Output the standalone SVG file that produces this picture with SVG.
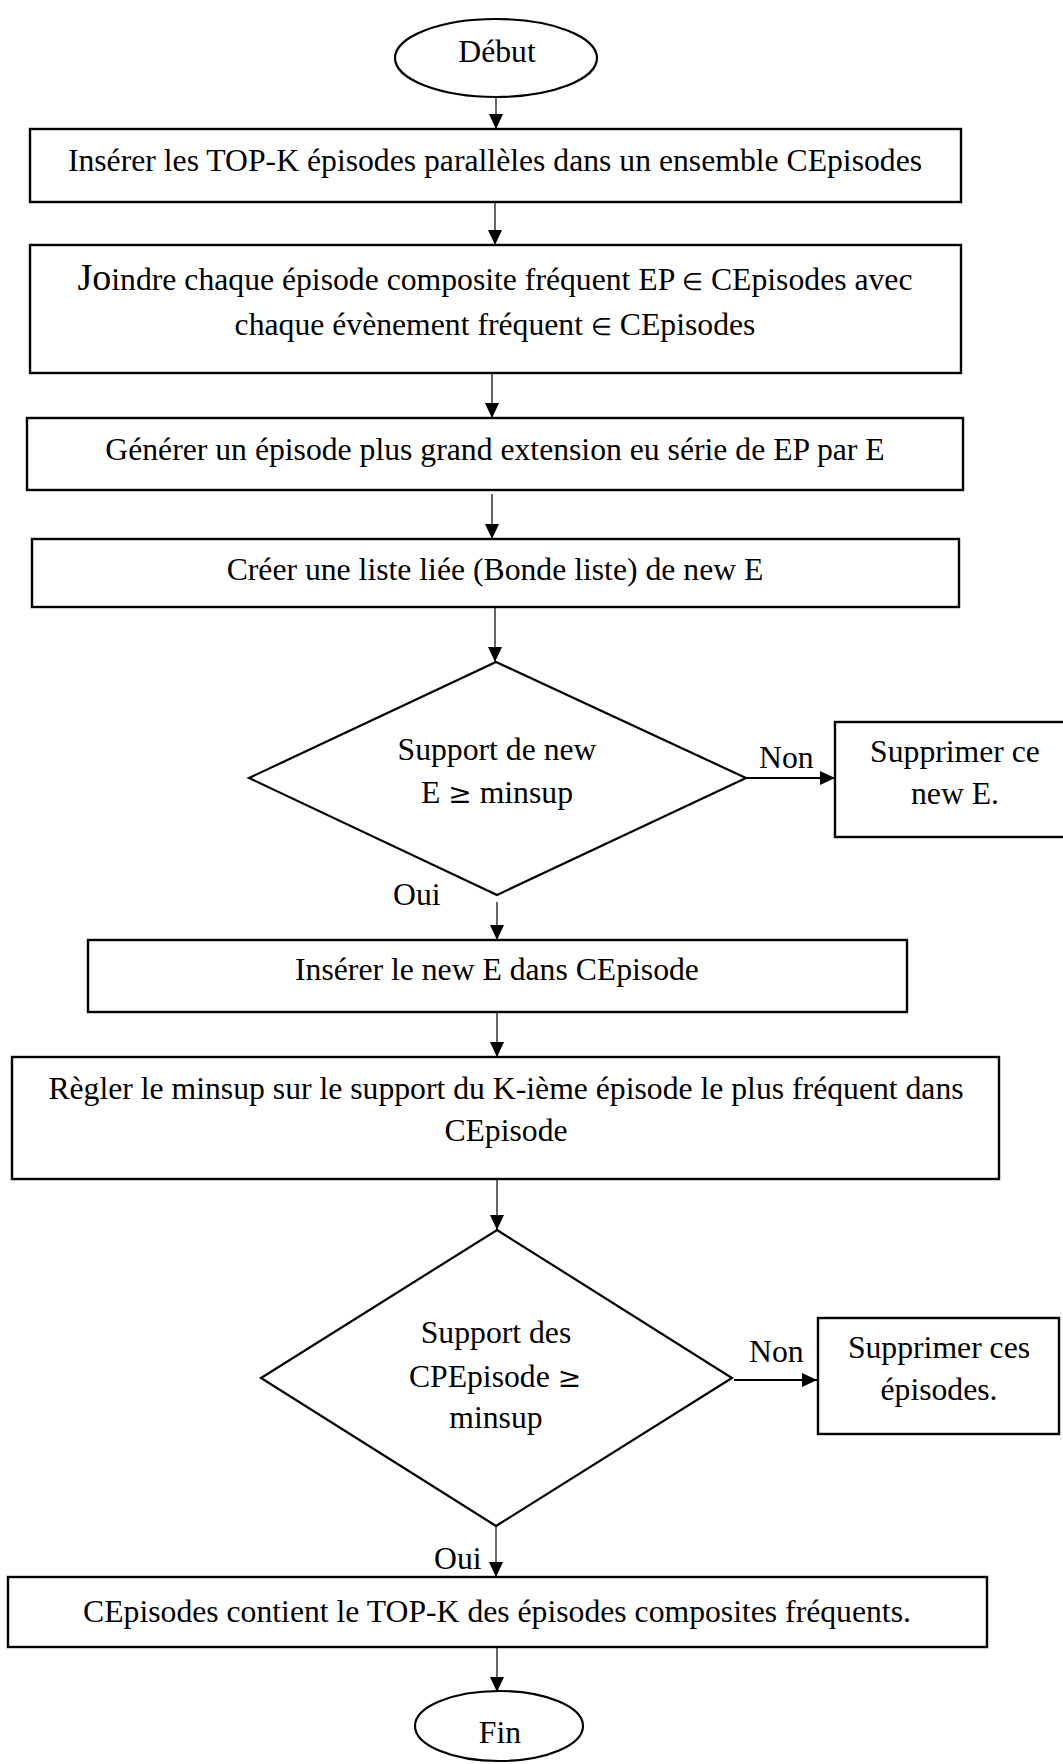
<svg xmlns="http://www.w3.org/2000/svg" width="1063" height="1764" viewBox="0 0 1063 1764">
  <defs>
    <marker id="arr" markerWidth="15" markerHeight="14" refX="15" refY="7" orient="auto" markerUnits="userSpaceOnUse">
      <path d="M0,0 L15,7 L0,14 Z" fill="#000"/>
    </marker>
    <style>
      .shape { fill: #fff; stroke: #000; stroke-width: 2.4; }
      .thin { fill: #fff; stroke: #000; stroke-width: 2.2; }
      .link { fill: none; stroke: #000; stroke-width: 1.2; marker-end: url(#arr); }
      .side { fill: none; stroke: #000; stroke-width: 2; marker-end: url(#arr); }
      text { font-family: "Liberation Serif", "Times New Roman", serif; font-size: 31.7px; fill: #000; text-anchor: middle; }
      .lbl { text-anchor: start; }
      .big { font-size: 38px; }
      .elem { font-size: 24px; }
      .ge { font-family: "DejaVu Serif", serif; font-size: 28px; }
    </style>
  </defs>

  <rect width="1063" height="1764" fill="#fff"/>

  <!-- connectors -->
  <g id="connectors">
    <line class="link" x1="496" y1="97" x2="496" y2="129"/>
    <line class="link" x1="495" y1="202" x2="495" y2="245"/>
    <line class="link" x1="492" y1="373" x2="492" y2="418"/>
    <line class="link" x1="492" y1="494" x2="492" y2="539"/>
    <line class="link" x1="495" y1="607" x2="495" y2="662"/>
    <line class="side" x1="746" y1="778" x2="835" y2="778"/>
    <line class="link" x1="497" y1="902" x2="497" y2="940"/>
    <line class="link" x1="497" y1="1012" x2="497" y2="1057"/>
    <line class="link" x1="497" y1="1179" x2="497" y2="1230"/>
    <line class="side" x1="734" y1="1380" x2="817" y2="1380"/>
    <line class="link" x1="496" y1="1526" x2="496" y2="1577"/>
    <line class="link" x1="497" y1="1647" x2="497" y2="1692"/>
    <text class="lbl" x="759" y="768">Non</text>
    <text class="lbl" x="393" y="905">Oui</text>
    <text class="lbl" x="749" y="1362">Non</text>
    <text class="lbl" x="434" y="1569">Oui</text>
  </g>

  <!-- start -->
  <g id="debut">
    <ellipse class="thin" cx="496" cy="58" rx="101" ry="39"/>
    <text x="497" y="62">Début</text>
  </g>

  <g id="inserer-topk">
    <rect class="shape" x="30" y="129" width="931" height="73"/>
    <text x="495" y="171">Insérer les TOP-K épisodes parallèles dans un ensemble CEpisodes</text>
  </g>

  <g id="joindre">
    <rect class="shape" x="30" y="245" width="931" height="128"/>
    <text x="495" y="290"><tspan class="big">Jo</tspan>indre chaque épisode composite fréquent EP <tspan class="elem">∈</tspan> CEpisodes avec</text>
    <text x="495" y="335">chaque évènement fréquent <tspan class="elem">∈</tspan>  CEpisodes</text>
  </g>

  <g id="generer">
    <rect class="shape" x="27" y="418" width="936" height="72"/>
    <text x="495" y="460">Générer un épisode plus grand extension eu série de EP par E</text>
  </g>

  <g id="creer-liste">
    <rect class="shape" x="32" y="539" width="927" height="68"/>
    <text x="495" y="580">Créer une liste liée (Bonde liste) de new E</text>
  </g>

  <g id="test-support-new-e">
    <polygon class="thin" points="496,662 746,778 497,895 249,778"/>
    <text x="497" y="760">Support de new</text>
    <text x="497" y="803">E <tspan class="ge">≥</tspan> minsup</text>
  </g>

  <g id="supprimer-new-e">
    <rect class="shape" x="835" y="722" width="232" height="115"/>
    <text x="955" y="762">Supprimer ce</text>
    <text x="955" y="804">new E.</text>
  </g>

  <g id="inserer-new-e">
    <rect class="shape" x="88" y="940" width="819" height="72"/>
    <text x="497" y="980">Insérer le new E dans CEpisode</text>
  </g>

  <g id="regler-minsup">
    <rect class="shape" x="12" y="1057" width="987" height="122"/>
    <text x="506" y="1099">Règler le minsup sur le support du K-ième épisode le plus fréquent dans</text>
    <text x="506" y="1141">CEpisode</text>
  </g>

  <g id="test-support-cpepisode">
    <polygon class="thin" points="497,1230 732,1378 496,1526 261,1378"/>
    <text x="496" y="1343">Support des</text>
    <text x="495" y="1387">CPEpisode <tspan class="ge">≥</tspan></text>
    <text x="496" y="1428">minsup</text>
  </g>

  <g id="supprimer-episodes">
    <rect class="shape" x="818" y="1318" width="241" height="116"/>
    <text x="939" y="1358">Supprimer ces</text>
    <text x="939" y="1400">épisodes.</text>
  </g>

  <g id="resultat">
    <rect class="shape" x="8" y="1577" width="979" height="70"/>
    <text x="497" y="1622">CEpisodes contient le TOP-K des épisodes composites fréquents.</text>
  </g>

  <!-- end -->
  <g id="fin">
    <ellipse class="thin" cx="499" cy="1726" rx="84" ry="35"/>
    <text x="500" y="1743">Fin</text>
  </g>
</svg>
